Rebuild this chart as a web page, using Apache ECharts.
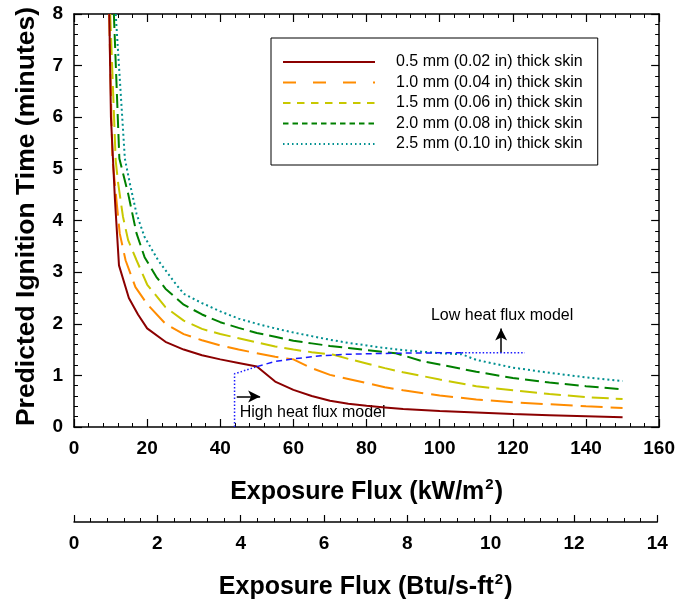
<!DOCTYPE html>
<html>
<head>
<meta charset="utf-8">
<script src="https://cdn.jsdelivr.net/npm/echarts@6/dist/echarts.min.js"></script>
<style>
  html, body { margin: 0; padding: 0; background: #fff; }
  #chart { width: 678px; height: 604px; }
</style>
</head>
<body>
<div id="chart"></div>
<script>
// Predicted ignition time versus exposure heat flux for several skin thicknesses
const FONT = 'Liberation Sans, Arial, Helvetica, sans-serif';

const seriesNames = [
  '0.5 mm (0.02 in) thick skin',
  '1.0 mm (0.04 in) thick skin',
  '1.5 mm (0.06 in) thick skin',
  '2.0 mm (0.08 in) thick skin',
  '2.5 mm (0.10 in) thick skin'
];

// exposure flux (kW/m2) and ignition time (minutes), one pair of arrays per thickness
const flux05 = [9.65, 10.1, 11.2, 12.3, 15, 17.5, 20, 25, 30, 35, 40, 45, 50, 55, 60, 65, 70, 75, 80, 85, 90, 100, 110, 120, 130, 140, 150];
const time05 = [8.0, 6.0, 4.4, 3.13, 2.5, 2.18, 1.91, 1.65, 1.5, 1.39, 1.31, 1.24, 1.17, 0.88, 0.72, 0.6, 0.51, 0.45, 0.41, 0.38, 0.35, 0.31, 0.28, 0.25, 0.23, 0.21, 0.19];

const flux10 = [9.6, 10.5, 11.6, 12.5, 14.1, 16.8, 20, 25, 30, 35, 40, 45, 50, 55, 60, 65, 70, 75, 80, 85, 90, 100, 110, 120, 130, 140, 150];
const time10 = [8.0, 5.2, 4.4, 3.75, 3.23, 2.71, 2.38, 2.0, 1.8, 1.68, 1.58, 1.5, 1.43, 1.36, 1.31, 1.14, 1.01, 0.93, 0.85, 0.77, 0.71, 0.61, 0.535, 0.48, 0.44, 0.40, 0.37];

const flux15 = [9.9, 11.4, 12.1, 13.4, 14.8, 17.1, 20, 25, 30, 35, 40, 45, 50, 55, 60, 65, 71, 75, 80, 85, 90, 100, 110, 120, 130, 140, 150];
const time15 = [8.0, 5.16, 4.71, 4.07, 3.62, 3.23, 2.76, 2.32, 2.06, 1.9, 1.8, 1.72, 1.64, 1.56, 1.5, 1.45, 1.40, 1.32, 1.23, 1.14, 1.06, 0.92, 0.79, 0.71, 0.64, 0.58, 0.54];

const flux20 = [10.9, 12.4, 14.8, 17.1, 19.3, 22.5, 25, 30, 35, 40, 45, 50, 55, 60, 65, 70, 75, 80, 85, 88, 95, 100, 110, 120, 130, 140, 150];
const time20 = [8.0, 5.2, 4.52, 3.75, 3.29, 2.91, 2.68, 2.37, 2.18, 2.03, 1.92, 1.82, 1.75, 1.67, 1.62, 1.57, 1.53, 1.49, 1.45, 1.43, 1.28, 1.21, 1.07, 0.95, 0.86, 0.79, 0.73];

const flux25 = [11.4, 13.9, 15.3, 17.1, 19.3, 23, 27.5, 30, 35, 40, 45, 50, 55, 60, 65, 70, 75, 80, 85, 90, 95, 100, 106, 110, 120, 130, 140, 150];
const time25 = [8.0, 5.2, 4.71, 4.13, 3.68, 3.23, 2.8, 2.58, 2.4, 2.24, 2.1, 2.0, 1.91, 1.83, 1.76, 1.69, 1.63, 1.58, 1.53, 1.49, 1.46, 1.43, 1.41, 1.30, 1.15, 1.05, 0.96, 0.89];

// boundary between the high and low heat flux models
const edgeLowFlux = [43.9, 43.9, 50];
const edgeLowTime = [0, 1.03, 1.17];
const edgeMidFlux = [50, 55, 60, 67.5, 75, 88, 106];
const edgeMidTime = [1.17, 1.27, 1.32, 1.38, 1.41, 1.43, 1.44];
const edgeHighFlux = [106, 123.3];
const edgeHighTime = [1.44, 1.44];

// tick ranges
const kwMin = 0, kwMax = 160, kwStep = 20;
const btuMin = 0, btuMax = 14, btuStep = 2;
const timeMin = 0, timeMax = 8, timeStep = 1;
const kwPerBtu = 11.357;

const colors = ['#8b0000', '#ff8c00', '#c8c800', '#008000', '#009090'];
const dashes = ['solid', [22, 8], [17, 7], [14, 6], [2, 3]];
const legendDashes = ['solid', [13, 17], [7.5, 6.5], [5.5, 4], [1.5, 3]];

const zip = (xs, ys) => xs.map((x, i) => [x, ys[i]]);
const curveData = [zip(flux05, time05), zip(flux10, time10), zip(flux15, time15), zip(flux20, time20), zip(flux25, time25)];

const plotLeft = 74, plotTop = 14, plotWidth = 587, plotHeight = 413;
const btuWidth = plotWidth * (btuMax * kwPerBtu) / kwMax;

const labelStyle = { color: '#000', fontFamily: FONT, fontWeight: 'bold', fontSize: 19 };
const titleRich = {
  a: { fontFamily: FONT, fontWeight: 'bold', fontSize: 25, color: '#000', lineHeight: 30 },
  s: { fontFamily: FONT, fontWeight: 'bold', fontSize: 15, color: '#000', verticalAlign: 'top', lineHeight: 30, padding: [0, 1, 6, 1] }
};
const axisLineStyle = { color: '#000', width: 1.5 };

function frameAxis(extra) {
  return Object.assign({
    axisLine: { show: true, onZero: false, lineStyle: axisLineStyle },
    axisTick: { show: true, inside: true, length: 8, lineStyle: { color: '#000', width: 1.2 } },
    minorTick: { show: true, splitNumber: 5, length: 4, lineStyle: { color: '#000', width: 1 } },
    splitLine: { show: false },
    minorSplitLine: { show: false }
  }, extra);
}

const lineSeries = seriesNames.map((name, i) => ({
  name: name,
  type: 'line',
  data: curveData[i],
  showSymbol: false,
  symbol: 'none',
  color: colors[i],
  lineStyle: { color: colors[i], width: 2, type: dashes[i], cap: 'butt' },
  z: 3 + (4 - i)
}));

const boundaryStyle = { color: '#1a1aff', width: 1.5 };

const option = {
  animation: false,
  backgroundColor: '#fff',
  textStyle: { fontFamily: FONT },
  grid: [
    { left: plotLeft, top: plotTop, width: plotWidth, height: plotHeight },
    { left: plotLeft, top: 521, width: btuWidth, height: 1 }
  ],
  legend: {
    data: seriesNames.map((name, i) => ({
      name: name,
      lineStyle: { type: legendDashes[i], width: 2, color: colors[i] }
    })),
    orient: 'vertical',
    left: 271,
    top: 38,
    borderColor: '#000',
    borderWidth: 1,
    padding: [16, 15, 13, 11],
    itemWidth: 92,
    itemHeight: 14,
    itemGap: 4.5,
    backgroundColor: '#fff',
    itemStyle: { color: 'transparent', borderWidth: 0, opacity: 0 },
    textStyle: { fontFamily: FONT, fontSize: 16, color: '#000', padding: [0, 0, 0, 16] }
  },
  xAxis: [
    frameAxis({
      type: 'value', gridIndex: 0, position: 'bottom',
      min: kwMin, max: kwMax, interval: kwStep,
      axisLabel: Object.assign({ margin: 12 }, labelStyle),
      name: '{a|Exposure Flux (kW/m}{s|2}{a|)}',
      nameLocation: 'middle', nameGap: 50,
      nameTextStyle: { rich: titleRich }
    }),
    frameAxis({
      type: 'value', gridIndex: 0, position: 'top',
      min: kwMin, max: kwMax, interval: kwStep,
      axisLabel: { show: false }
    }),
    frameAxis({
      type: 'value', gridIndex: 1, position: 'bottom',
      min: btuMin, max: btuMax, interval: btuStep,
      axisTick: { show: true, inside: true, length: 7, lineStyle: { color: '#000', width: 1.2 } },
      axisLabel: Object.assign({ margin: 12 }, labelStyle),
      name: '{a|Exposure Flux (Btu/s-ft}{s|2}{a|)}',
      nameLocation: 'middle', nameGap: 50,
      nameTextStyle: { rich: titleRich }
    })
  ],
  yAxis: [
    frameAxis({
      type: 'value', gridIndex: 0, position: 'left',
      min: timeMin, max: timeMax, interval: timeStep,
      axisLabel: Object.assign({ margin: 11 }, labelStyle),
      name: 'Predicted Ignition Time (minutes)',
      nameLocation: 'middle', nameGap: 34,
      nameTextStyle: { fontFamily: FONT, fontWeight: 'bold', fontSize: 26.5, color: '#000', padding: [0, 0, 0, 8] }
    }),
    frameAxis({
      type: 'value', gridIndex: 0, position: 'right',
      min: timeMin, max: timeMax, interval: timeStep,
      axisLabel: { show: false }
    }),
    { type: 'value', gridIndex: 1, min: 0, max: 1, show: false }
  ],
  series: lineSeries.concat([
    {
      name: 'boundary-low', type: 'line', xAxisIndex: 0, yAxisIndex: 0,
      data: zip(edgeLowFlux, edgeLowTime), showSymbol: false, symbol: 'none',
      lineStyle: Object.assign({ type: [1.5, 2] }, boundaryStyle), z: 10
    },
    {
      name: 'boundary-mid', type: 'line', xAxisIndex: 0, yAxisIndex: 0,
      data: zip(edgeMidFlux, edgeMidTime), showSymbol: false, symbol: 'none',
      lineStyle: Object.assign({ type: [6, 4] }, boundaryStyle), z: 10,
      markLine: {
        silent: true,
        symbol: ['none', 'arrow'],
        symbolSize: [9, 12],
        label: { show: false },
        lineStyle: { color: '#000', width: 1.5, type: 'solid' },
        data: [
          [{ coord: [44.5, 0.59] }, { coord: [50.9, 0.59] }],
          [{ coord: [116.8, 1.44] }, { coord: [116.8, 1.91] }]
        ]
      },
      markPoint: {
        silent: true,
        symbol: 'circle',
        symbolSize: 0,
        label: {
          show: true, position: [0, 0], align: 'left', verticalAlign: 'middle',
          fontFamily: FONT, fontSize: 16, color: '#000',
          formatter: p => p.name
        },
        data: [
          { name: 'High heat flux model', coord: [45.3, 0.27] },
          { name: 'Low heat flux model', coord: [97.6, 2.16] }
        ]
      }
    },
    {
      name: 'boundary-high', type: 'line', xAxisIndex: 0, yAxisIndex: 0,
      data: zip(edgeHighFlux, edgeHighTime), showSymbol: false, symbol: 'none',
      lineStyle: Object.assign({ type: [1.5, 2] }, boundaryStyle), z: 10
    }
  ])
};

const chart = echarts.init(document.getElementById('chart'), null, { renderer: 'canvas' });
chart.setOption(option);
</script>
</body>
</html>
